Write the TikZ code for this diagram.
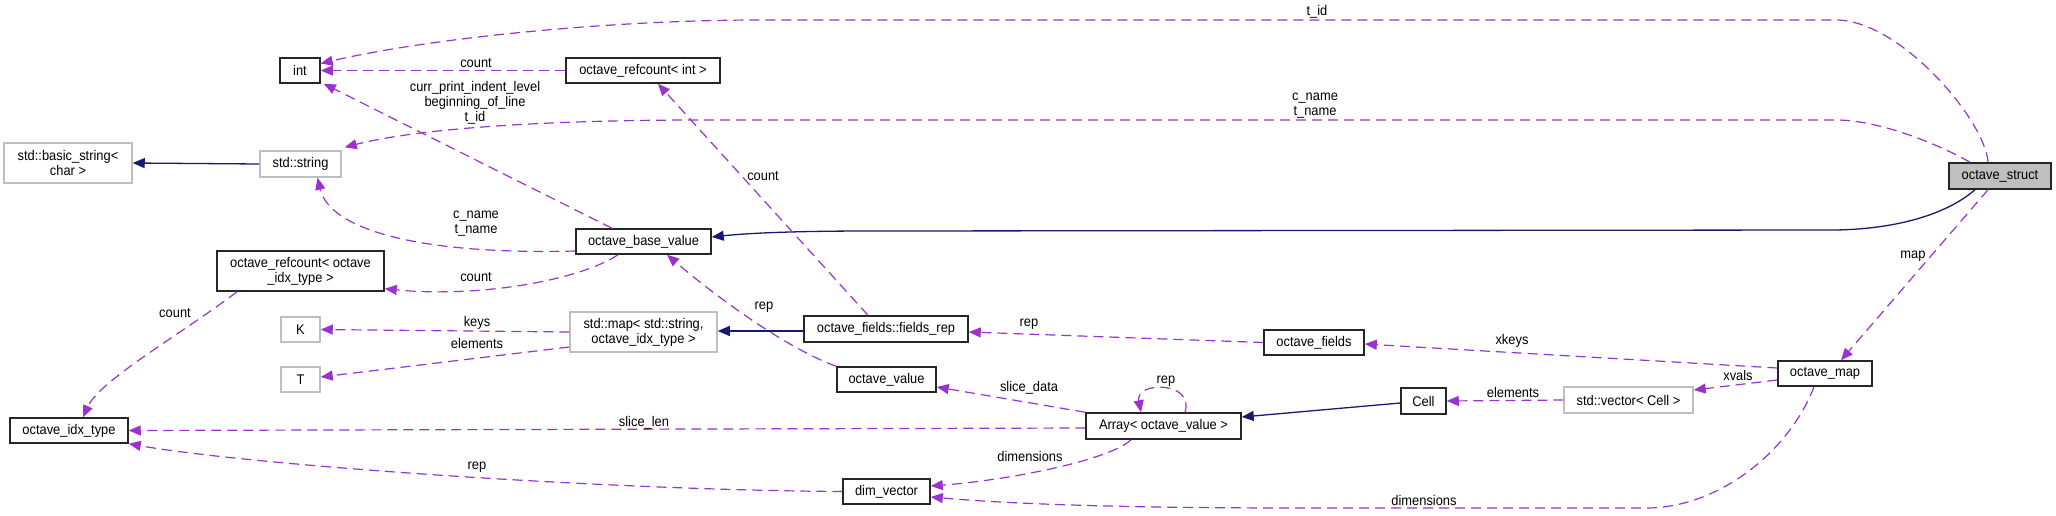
\documentclass[tikz,border=0pt]{standalone}
\usepackage{fontspec}
\setmainfont{Liberation Sans}[FakeStretch=0.92]
\usetikzlibrary{arrows.meta,calc}
\definecolor{edgepurple}{HTML}{9A32CD}
\definecolor{inhnavy}{HTML}{191970}
\definecolor{boxgray}{HTML}{BFBFBF}
\begin{document}
\begin{tikzpicture}[x=1pt,y=-1pt,
  font=\fontsize{14}{15}\selectfont,
  cls/.style={draw=black!85,line width=1.5pt,inner sep=0pt,align=center,fill=white},
  ext/.style={draw=boxgray,line width=1.5pt,inner sep=0pt,align=center,fill=white},
  mem/.style={draw=edgepurple,line width=1.2pt,dash pattern=on 10pt off 6pt,-{Triangle[length=12pt,width=10pt]}},
  inh/.style={draw=inhnavy,line width=1.3pt,-{Triangle[length=12pt,width=10pt]}},
  lbl/.style={inner sep=0pt,align=center}]
\useasboundingbox (0,0) rectangle (2056,515);
% nodes
\node[cls,minimum width=40pt,minimum height=25pt] (int) at (300,70.5) {int};
\node[cls,minimum width=154pt,minimum height=25pt] (ri) at (643,70.5) {octave\_refcount< int >};
\node[ext,minimum width=128pt,minimum height=40pt] (bs) at (68,163) {std::basic\_string<\\char >};
\node[ext,minimum width=81pt,minimum height=26pt] (ss) at (300.5,164) {std::string};
\node[cls,fill=boxgray,minimum width=102pt,minimum height=26pt] (os) at (2000,176) {octave\_struct};
\node[cls,minimum width=135pt,minimum height=25pt] (obv) at (643.5,241.5) {octave\_base\_value};
\node[cls,minimum width=167pt,minimum height=40pt] (rx) at (300.5,271) {octave\_refcount< octave\\\_idx\_type >};
\node[ext,minimum width=39pt,minimum height=25pt] (K) at (300.5,329.5) {K};
\node[ext,minimum width=39pt,minimum height=25pt] (T) at (300.5,379.5) {T};
\node[ext,minimum width=147pt,minimum height=40pt] (mp) at (643.5,332) {std::map< std::string,\\octave\_idx\_type >};
\node[cls,minimum width=164pt,minimum height=26pt] (fr) at (886,329) {octave\_fields::fields\_rep};
\node[cls,minimum width=100pt,minimum height=25pt] (of) at (1314,342.5) {octave\_fields};
\node[cls,minimum width=99pt,minimum height=25pt] (ov) at (886.5,379.5) {octave\_value};
\node[cls,minimum width=94pt,minimum height=25pt] (om) at (1825,373.5) {octave\_map};
\node[cls,minimum width=45pt,minimum height=26pt] (cell) at (1423.5,401) {Cell};
\node[ext,minimum width=129pt,minimum height=26pt] (sv) at (1628.5,400) {std::vector< Cell >};
\node[cls,minimum width=118pt,minimum height=25pt] (oit) at (69,430.5) {octave\_idx\_type};
\node[cls,minimum width=155pt,minimum height=26pt] (ar) at (1163.5,426) {Array< octave\_value >};
\node[cls,minimum width=87pt,minimum height=25pt] (dv) at (886.5,491.5) {dim\_vector};
% inheritance
\draw[inh] (ss.west) -- (bs.east);
\draw[inh] ([xshift=-25pt]os.south) .. controls (1940,220) and (1880,230) .. (1831,230) -- (870,231) .. controls (780,231) and (740,234) .. ([yshift=4.5pt]obv.east);
\draw[inh] ([yshift=-2pt]fr.west) -- ([yshift=1pt]mp.east);
\draw[inh] ([yshift=-2pt]cell.west) -- ([yshift=9pt]ar.east);
% members
\draw[mem] ([xshift=-12pt]os.north) .. controls (1985,120) and (1900,20) .. (1836,20) -- (760,20) .. controls (600,20) and (420,40) .. ([yshift=7pt]int.east);
\draw[mem] ([xshift=-30pt]os.north) .. controls (1940,145) and (1880,120) .. (1836,120) -- (700,120) .. controls (550,120) and (420,128) .. ([xshift=3pt,yshift=3pt]ss.north east);
\draw[mem] (ri.west) -- (int.east);
\draw[mem] ([xshift=-31.5pt]obv.north) -- ([xshift=3pt]int.south east);
\draw[mem] ([yshift=-9.5pt]obv.west) .. controls (420,255) and (330,230) .. ([xshift=17pt]ss.south);
\draw[mem] ([xshift=-25.5pt]obv.south) .. controls (580,280) and (480,298) .. ([yshift=3pt]rx.south east);
\draw[mem] ([xshift=-18pt]fr.north) -- ([xshift=15pt]ri.south);
\draw[mem] ([xshift=-63.5pt]rx.south) .. controls (180,335) and (100,380) .. ([xshift=14pt]oit.north);
\draw[mem] (mp.west) -- (K.east);
\draw[mem] ([yshift=-15pt]mp.west) -- ([yshift=2.5pt]T.east);
\draw[mem] (ov.north west) .. controls (790,350) and (720,300) .. ([xshift=23.5pt]obv.south);
\draw[mem] (of.west) -- ([yshift=-3pt]fr.east);
\draw[mem] ([yshift=5.5pt]om.west) -- ([yshift=-1.5pt]of.east);
\draw[mem] ([xshift=-12pt]os.south) -- ([xshift=16pt]om.north);
\draw[mem] ([yshift=-6.5pt]om.west) -- ([yshift=10pt]sv.east);
\draw[mem] (sv.west) -- (cell.east);
\draw[mem] (ar.north west) -- ([yshift=-7.5pt]ov.east);
\draw[mem] ([xshift=21.5pt]ar.north) .. controls (1195,381) and (1135,381) .. ([xshift=-22.5pt]ar.north);
\draw[mem] ([yshift=-2pt]ar.west) -- (oit.east);
\draw[mem] ([xshift=-32.5pt]ar.south) .. controls (1110,460) and (1010,480) .. ([yshift=5.5pt]dv.east);
\draw[mem] (dv.west) .. controls (600,490) and (250,465) .. (oit.south east);
\draw[mem] ([xshift=-11pt]om.south) .. controls (1790,450) and (1720,508) .. (1646,508) -- (1300,508) .. controls (1100,508) and (1000,503) .. ([yshift=-5.5pt]dv.east);
% labels
\node[lbl] (l1) at (1317,12) {t\_id};
\node[lbl] (l2) at (1315,106) {c\_name\\t\_name};
\node[lbl] (l3) at (476,63) {count};
\node[lbl] (l4) at (475,103) {curr\_print\_indent\_level\\beginning\_of\_line\\t\_id};
\node[lbl] (l5) at (476,224) {c\_name\\t\_name};
\node[lbl] (l6) at (476,277) {count};
\node[lbl] (l7) at (763,176) {count};
\node[lbl] (l8) at (175,313) {count};
\node[lbl] (l9) at (477,323) {keys};
\node[lbl] (l10) at (477,343) {elements};
\node[lbl] (l11) at (764,307) {rep};
\node[lbl] (l12) at (1029,324) {rep};
\node[lbl] (l13) at (1512,341) {xkeys};
\node[lbl] (l14) at (1913,256) {map};
\node[lbl] (l15) at (1738,375) {xvals};
\node[lbl] (l16) at (1513,392) {elements};
\node[lbl] (l17) at (1029,388) {slice\_data};
\node[lbl] (l18) at (1166,381) {rep};
\node[lbl] (l19) at (644,423) {slice\_len};
\node[lbl] (l20) at (1030,456) {dimensions};
\node[lbl] (l21) at (477,467) {rep};
\node[lbl] (l22) at (1424,500) {dimensions};
\end{tikzpicture}
\end{document}
